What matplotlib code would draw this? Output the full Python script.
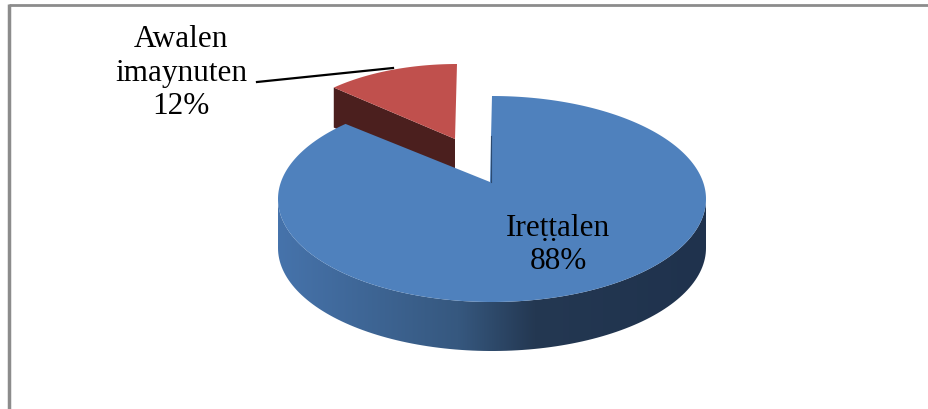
import numpy as np
import matplotlib
matplotlib.use("Agg")
from matplotlib import pyplot as plt
from matplotlib.patches import Polygon
from matplotlib.colors import LinearSegmentedColormap

labels = ["Ireṭṭalen", "Awalen\nimaynuten"]
values = [88, 12]
colors_top = ["#4F81BD", "#C0504D"]
color_red_side = "#4B1F1E"

W, H = 929, 410
fig = plt.figure(figsize=(W / 100, H / 100), dpi=100)
ax = fig.add_axes([0, 0, 1, 1])
ax.set_xlim(0, W)
ax.set_ylim(H, 0)
ax.axis("off")


def ell(t, cx, cy, rx, ryt, ryb):
    # point on (slightly perspective) ellipse, t in degrees, y down
    t = np.radians(np.asarray(t, dtype=float))
    s = np.sin(t)
    ry = np.where(s > 0, ryt, ryb)
    return np.column_stack([cx + rx * np.cos(t), cy - ry * s])


frac = np.array(values) / sum(values)
a_split = 90 - frac[0] * 360  # blue goes clockwise from 12 o'clock

# blue pie geometry
bcx, bcy, brx, bryt, bryb = 492, 200, 214, 103, 103
bvert = np.array([490, 183])
bdepth = 49

# red (exploded) geometry
rcx, rcy, rrx, rryt, rryb = 457, 152, 180, 87, 92
rvert = np.array([455, 140])
rdepth = 40

# red side (cut face), then red top
pr = ell(a_split + 360, rcx, rcy, rrx, rryt, rryb)[0]
side = np.array([rvert, pr, pr + [0, rdepth], rvert + [0, rdepth]])
ax.add_patch(Polygon(side, closed=True, fc=color_red_side, ec="none", zorder=1))
tr = np.linspace(90, a_split + 360, 60)
top_r = np.vstack([rvert, ell(tr, rcx, rcy, rrx, rryt, rryb)])
ax.add_patch(Polygon(top_r, closed=True, fc=colors_top[1], ec="none", zorder=2))

# blue outer wall with horizontal gradient
tw = np.linspace(180, 360, 120)
upper = ell(tw, bcx, bcy, brx, bryt, bryb)
lower = upper[::-1] + [0, bdepth]
wall = Polygon(np.vstack([upper, lower]), closed=True, fc="none", ec="none", zorder=3)
ax.add_patch(wall)
cmap = LinearSegmentedColormap.from_list(
    "wall", [(0, "#4673AB"), (0.42, "#36587F"), (0.6, "#243852"), (1, "#1F324D")])
grad = np.linspace(0, 1, 256).reshape(1, -1)
im = ax.imshow(grad, cmap=cmap, extent=[bcx - brx, bcx + brx, bcy + bryb + bdepth + 2, bcy - 5],
               aspect="auto", zorder=3)
im.set_clip_path(wall)

# blue top
tb = np.linspace(90, a_split, 300)
top_b = np.vstack([bvert, ell(tb, bcx, bcy, brx, bryt, bryb)])
ax.add_patch(Polygon(top_b, closed=True, fc=colors_top[0], ec="none", zorder=4))
ax.plot([bvert[0] + 1, bvert[0] + 1], [bcy - bryt + 40, bvert[1]], color="#2B4A70", lw=0.8, zorder=5)

ax.set_xlim(0, W)
ax.set_ylim(H, 0)

# labels
font = "Liberation Serif"
ax.text(558, 245, f"{labels[0]}\n{values[0]}%", ha="center", va="center", fontsize=22.5,
        family=font, linespacing=1.22, zorder=6)
ax.text(181, 73, f"{labels[1]}\n{values[1]}%", ha="center", va="center", fontsize=22.5,
        family=font, linespacing=1.22, zorder=6)
ax.plot([257, 393], [83, 69], color="black", lw=1.6, zorder=6)

# chart frame (cropped)
ax.plot([9.5, W], [6, 6], color="#8C8C8C", lw=2, zorder=7, solid_capstyle="butt")
ax.plot([9.5, 9.5], [5, H], color="#8C8C8C", lw=2.5, zorder=7, solid_capstyle="butt")

fig.savefig("out.png", dpi=100)
